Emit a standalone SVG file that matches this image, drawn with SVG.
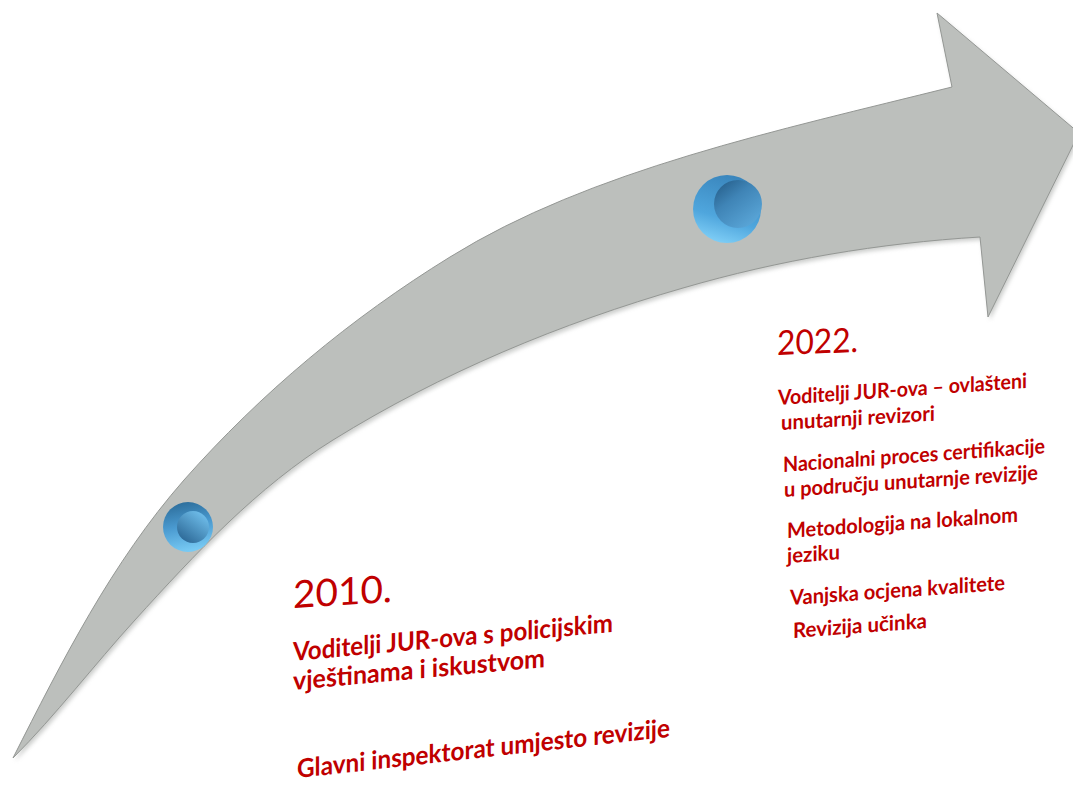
<svg xmlns="http://www.w3.org/2000/svg" width="1073" height="785" viewBox="0 0 1073 785">
<defs>
<style>
.t{fill:#c00000;font-family:Lato,"Liberation Sans",sans-serif;}
.yr{font-weight:400;}
.b{font-weight:700;}
</style>
<filter id="sh" x="-5%" y="-5%" width="110%" height="110%"><feGaussianBlur stdDeviation="2"/></filter>
<linearGradient id="ring1" x1="0.2" y1="0" x2="0.4" y2="1">
<stop offset="0" stop-color="#2b6b98"/><stop offset="0.5" stop-color="#4a9ad0"/><stop offset="1" stop-color="#78caf4"/>
</linearGradient>
<linearGradient id="core1" x1="0.8" y1="0.1" x2="0.2" y2="0.9">
<stop offset="0" stop-color="#6dbbe8"/><stop offset="1" stop-color="#2f6c9a"/>
</linearGradient>
<linearGradient id="ring2" x1="0.5" y1="0" x2="0.2" y2="1">
<stop offset="0" stop-color="#3a86bd"/><stop offset="0.6" stop-color="#4fa6dd"/><stop offset="1" stop-color="#86d4fa"/>
</linearGradient>
<linearGradient id="core2" x1="0.15" y1="0.1" x2="0.8" y2="0.95">
<stop offset="0" stop-color="#2a6592"/><stop offset="0.35" stop-color="#3f84b6"/><stop offset="1" stop-color="#5aa6d8"/>
</linearGradient>
<path id="arrowPath" d="M13,758 C62,661 112,562 184,480 C261,393 351,318 450,257 C590,170 780,130 952,87 L937,13 L1079,133 L988,317 L980,237 C880,243 779,260 683,288 C561,323 441,373 333,440 C257,487 195,554 135,620 C94,665 56,715 13,758 Z"/>
</defs>
<rect width="1073" height="785" fill="#ffffff"/>
<g id="connectors">
<g id="timeline-arrow">
<use href="#arrowPath" transform="translate(2,3)" fill="#9a9d9a" opacity="0.5" filter="url(#sh)"/>
<use href="#arrowPath" fill="#bcbfbc" stroke="#949794" stroke-width="1"/>
</g>
</g>
<g id="node-2010-marker">
<circle cx="188" cy="527" r="25" fill="url(#ring1)"/>
<circle cx="193" cy="527" r="16" fill="url(#core1)"/>
</g>
<g id="node-2022-marker">
<circle cx="727" cy="209" r="34" fill="url(#ring2)"/>
<circle cx="738" cy="204" r="24" fill="url(#core2)"/>
</g>
<g id="node-2010-text">
<text class="t yr" font-size="38" textLength="99" lengthAdjust="spacingAndGlyphs" transform="translate(293,608) skewY(-3.5)">2010.</text>
<text class="t b" font-size="26" textLength="320" lengthAdjust="spacingAndGlyphs" transform="translate(293,661) skewY(-5.2)">Voditelji JUR-ova s policijskim</text>
<text class="t b" font-size="26" textLength="252" lengthAdjust="spacingAndGlyphs" transform="translate(293,690) skewY(-5.2)">vještinama i iskustvom</text>
<text class="t b" font-size="26" textLength="373" lengthAdjust="spacingAndGlyphs" transform="translate(297,778) skewY(-6.3)">Glavni inspektorat umjesto revizije</text>
</g>
<g id="node-2022-text">
<text class="t yr" font-size="34" textLength="81" lengthAdjust="spacingAndGlyphs" transform="translate(777,355) skewY(-2.2)">2022.</text>
<text class="t b" font-size="21" textLength="249" lengthAdjust="spacingAndGlyphs" transform="translate(778,405) skewY(-3.9)">Voditelji JUR-ova – ovlašteni</text>
<text class="t b" font-size="21" textLength="154" lengthAdjust="spacingAndGlyphs" transform="translate(781,430) skewY(-3.5)">unutarnji revizori</text>
<text class="t b" font-size="21" textLength="262" lengthAdjust="spacingAndGlyphs" transform="translate(783,472) skewY(-4.1)">Nacionalni proces certifikacije</text>
<text class="t b" font-size="21" textLength="254" lengthAdjust="spacingAndGlyphs" transform="translate(784,497) skewY(-3.9)">u području unutarnje revizije</text>
<text class="t b" font-size="21" textLength="231" lengthAdjust="spacingAndGlyphs" transform="translate(787,538) skewY(-4)">Metodologija na lokalnom</text>
<text class="t b" font-size="21" textLength="53" lengthAdjust="spacingAndGlyphs" transform="translate(787,563) skewY(-4)">jeziku</text>
<text class="t b" font-size="21" textLength="215" lengthAdjust="spacingAndGlyphs" transform="translate(790,605) skewY(-4)">Vanjska ocjena kvalitete</text>
<text class="t b" font-size="21" textLength="134" lengthAdjust="spacingAndGlyphs" transform="translate(793,638) skewY(-4.3)">Revizija učinka</text>
</g>
</svg>
